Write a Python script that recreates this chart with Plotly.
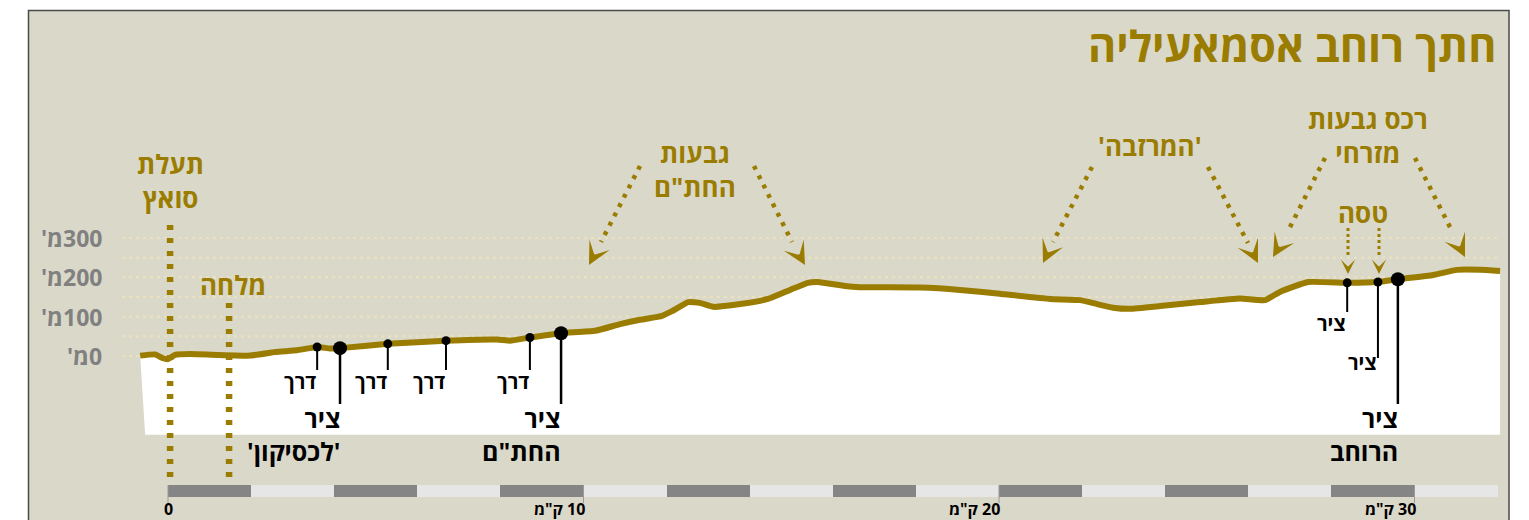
import math
import plotly.graph_objects as go

# ---------------- data ----------------
PROFILE_KM = [-0.67, -0.31, -0.14, 0.0, 0.17, 0.53, 1.97, 2.58, 3.13, 3.59, 3.90, 4.14,
              5.29, 6.69, 7.92, 8.23, 8.71, 9.46, 10.28, 10.88, 11.36, 11.89, 12.13,
              12.52, 12.80, 13.12, 13.77, 14.44, 14.97, 15.40, 15.64, 16.29, 16.65,
              18.10, 19.06, 20.02, 21.23, 21.95, 22.36, 22.79, 23.15, 23.88, 24.84,
              25.80, 26.40, 26.76, 27.44, 28.38, 29.12, 29.60, 30.45, 31.02, 31.58, 32.06]
PROFILE_M = [1, 4, -5, -8, 3, 5, 1, 10, 15, 23, 19, 20,
             31, 39, 42, 39, 47, 58, 64, 81, 92, 102, 114,
             137, 135, 125, 132, 145, 168, 186, 188, 178, 175,
             174, 168, 158, 145, 142, 132, 122, 120, 127, 137,
             146, 142, 163, 188, 186, 188, 195, 206, 219, 219, 216]
BASE_M = -200
FILL_EDGE_KM = [32.06, -0.55]

ROAD_KM = [3.59, 5.29, 6.69, 8.71]
ROAD_M = [23, 31, 39, 47]
ROAD_LABEL = "דרך"

AXIS_KM = [4.14, 9.46, 29.60]
AXIS_M = [20, 58, 195]
AXIS_LABEL = "ציר"
AXIS_NAMES = ["'לכסיקון'", 'החת"ם', "הרוחב"]

TASA_KM = [28.38, 29.12]
TASA_M = [186, 188]

Y_TICKS = [0, 100, 200, 300]
Y_TICK_TEXT = ["0מ'", "100מ'", "200מ'", "300מ'"]
GRID_M = [0, 50, 100, 150, 200, 250, 300]

SCALE_STARTS = list(range(0, 32, 2))
SCALE_LEN = 2
SCALE_TICKS = [0, 10, 20, 30]
SCALE_TICK_TEXT = ["0", '10 ק"מ', '20 ק"מ', '30 ק"מ']

CANAL_KM = 0.05
SALT_KM = 1.47
TITLE = "חתך רוחב אסמאעיליה"

# ---------------- geometry / style ----------------
PAGE_W, PAGE_H = 1529, 520
OFF = 8                      # default body margin of the html page
W, H = PAGE_W - OFF, PAGE_H - OFF
X0PX, PX_PER_KM = 168.0, 41.55          # page pixel of km 0
Y0PX, PX_PER_M = 356.0, 118.0 / 300.0   # page pixel of 0 m

GOLD = "#9a7c00"
BG = "#dad8c9"
GREY = "#808080"
FONT = "Open Sans, Liberation Sans, DejaVu Sans, sans-serif"
RLM = "\u200f"


def kx(px):
    return (px - X0PX) / PX_PER_KM


def my(py):
    return (Y0PX - py) / PX_PER_M


def xpx(km):
    return X0PX + km * PX_PER_KM


def ypx(m):
    return Y0PX - m * PX_PER_M


shapes = []
annotations = []


def text(s, px, py, size, color, anchor="center", pad=1):
    lines = s.split("\n")
    body = "<br>".join(RLM + ln + RLM for ln in lines)
    annotations.append(dict(
        text="<b>" + body + "</b>", x=kx(px), y=my(py), xref="x", yref="y",
        xanchor=anchor, yanchor="middle", showarrow=False, borderpad=pad,
        align=anchor if anchor != "center" else "center",
        font=dict(family=FONT, size=size, color=color)))


def vline(km, m0, m1, color, width, dash="solid", layer="above"):
    shapes.append(dict(type="line", xref="x", yref="y", x0=km, x1=km, y0=m0, y1=m1,
                       line=dict(color=color, width=width, dash=dash), layer=layer))


def dotted_arrow(tail, head_start, tip, dot_w, dash, head_scale):
    shapes.append(dict(type="line", xref="x", yref="y",
                       x0=kx(tail[0]), y0=my(tail[1]), x1=kx(head_start[0]), y1=my(head_start[1]),
                       line=dict(color=GOLD, width=dot_w, dash=dash), layer="above"))
    dx, dy = tip[0] - head_start[0], tip[1] - head_start[1]
    L = math.hypot(dx, dy)
    ux, uy = dx / L, dy / L
    back = 3.0 * head_scale
    annotations.append(dict(
        x=kx(tip[0]), y=my(tip[1]), xref="x", yref="y", text="", showarrow=True,
        ax=-ux * back, ay=-uy * back, arrowhead=3, arrowwidth=0.5,
        arrowsize=head_scale / 0.5, arrowcolor=GOLD, standoff=0))


# card background
shapes.append(dict(type="rect", xref="paper", yref="paper",
                   x0=(28.5 - OFF) / W, x1=(1509 - OFF) / W, y0=-0.2, y1=1 - (10.5 - OFF) / H,
                   fillcolor=BG, line=dict(color="#4a4a4a", width=1.5), layer="below"))
# dotted gridlines
for g in GRID_M:
    shapes.append(dict(type="line", xref="x", yref="y", x0=kx(122), x1=kx(1500), y0=g, y1=g,
                       line=dict(color="#ece1bf", width=2, dash="3px,4px"), layer="below"))

fig = go.Figure()

# white cross-section body
fig.add_trace(go.Scatter(
    x=PROFILE_KM + FILL_EDGE_KM, y=PROFILE_M + [BASE_M, BASE_M],
    fill="toself", fillcolor="white", mode="none", hoverinfo="skip", showlegend=False))

# scale bar
fig.add_trace(go.Bar(
    orientation="h", base=SCALE_STARTS, x=[SCALE_LEN] * len(SCALE_STARTS),
    y=[my(491)] * len(SCALE_STARTS), width=12 / PX_PER_M,
    marker=dict(color=["#858585" if i % 2 == 0 else "#e6e6e6" for i in range(len(SCALE_STARTS))],
                line=dict(width=0)),
    hoverinfo="skip", showlegend=False))

# canal / salt marsh dotted lines
vline(CANAL_KM, my(225), my(481), GOLD, 6.5, "5px,8px")
vline(SALT_KM, my(303), my(481), GOLD, 6.5, "5px,8px")

# stems
for k, m in zip(ROAD_KM, ROAD_M):
    vline(k, m, my(370), "black", 2)
    text(ROAD_LABEL, xpx(k) + 1, 381, 20, "black", "right")
for k, m, name in zip(AXIS_KM, AXIS_M, AXIS_NAMES):
    vline(k, m, my(404), "black", 2.5)
    text(AXIS_LABEL + "\n" + name, xpx(k) + 2, 434, 25, "black", "right")
for k, m, sb, ly in zip(TASA_KM, TASA_M, [312, 358], [323, 362]):
    vline(k, m, my(sb), "black", 2)
    text(AXIS_LABEL, xpx(k) + 1, ly, 20, "black", "right")

# profile line
fig.add_trace(go.Scatter(
    x=PROFILE_KM, y=PROFILE_M, mode="lines",
    line=dict(color=GOLD, width=6, shape="spline", smoothing=0.4),
    hoverinfo="skip", showlegend=False))

# station dots
fig.add_trace(go.Scatter(x=ROAD_KM + TASA_KM, y=ROAD_M + TASA_M, mode="markers",
                         marker=dict(color="black", size=9), hoverinfo="skip", showlegend=False))
fig.add_trace(go.Scatter(x=AXIS_KM, y=AXIS_M, mode="markers",
                         marker=dict(color="black", size=14), hoverinfo="skip", showlegend=False))

# scale ticks and labels
for t, lab in zip(SCALE_TICKS, SCALE_TICK_TEXT):
    vline(t, my(485), my(503), "#9a9a9a", 1)
    text(lab, xpx(t) + (0 if t == 0 else 2), 509, 16, "black",
         "center" if t == 0 else "right", pad=0)

# y labels
for v, lab in zip(Y_TICKS, Y_TICK_TEXT):
    text(lab, 104, ypx(v), 23, GREY, "right")

# title and region labels
text(TITLE, 1498, 45, 43, GOLD, "right")
text("תעלת\nסואץ", 170, 181, 26, GOLD)
text("מלחה", 233, 285, 26, GOLD)
text('גבעות\nהחת"ם', 695, 170, 26, GOLD)
text("'המרזבה'", 1150, 146, 26, GOLD)
text("רכס גבעות\nמזרחי", 1368, 136, 26, GOLD)
text("טסה", 1363, 213, 26, GOLD)

# arrows
for tail, hs, tip in [((640, 166), (601, 242), (589, 265)),
                      ((754, 166), (792, 242), (805, 265)),
                      ((1092, 167), (1053, 242), (1043, 263)),
                      ((1208, 167), (1248, 243), (1258, 263)),
                      ((1325, 158), (1287, 233), (1273, 257)),
                      ((1415, 158), (1453, 233), (1465, 257))]:
    dotted_arrow(tail, hs, tip, 4.5, "4px,6.5px", 3.8)
for x in [1348, 1379]:
    dotted_arrow((x, 228), (x, 258), (x, 274), 3, "3px,3px", 2.4)

fig.update_layout(
    width=W, height=H, margin=dict(l=0, r=0, t=0, b=0),
    paper_bgcolor="white", plot_bgcolor="rgba(0,0,0,0)",
    xaxis=dict(range=[kx(OFF), kx(OFF + W)], visible=False, fixedrange=True),
    yaxis=dict(range=[my(OFF + H), my(OFF)], visible=False, fixedrange=True),
    shapes=shapes, annotations=annotations, showlegend=False, bargap=0,
)

fig.write_html("out.html")
